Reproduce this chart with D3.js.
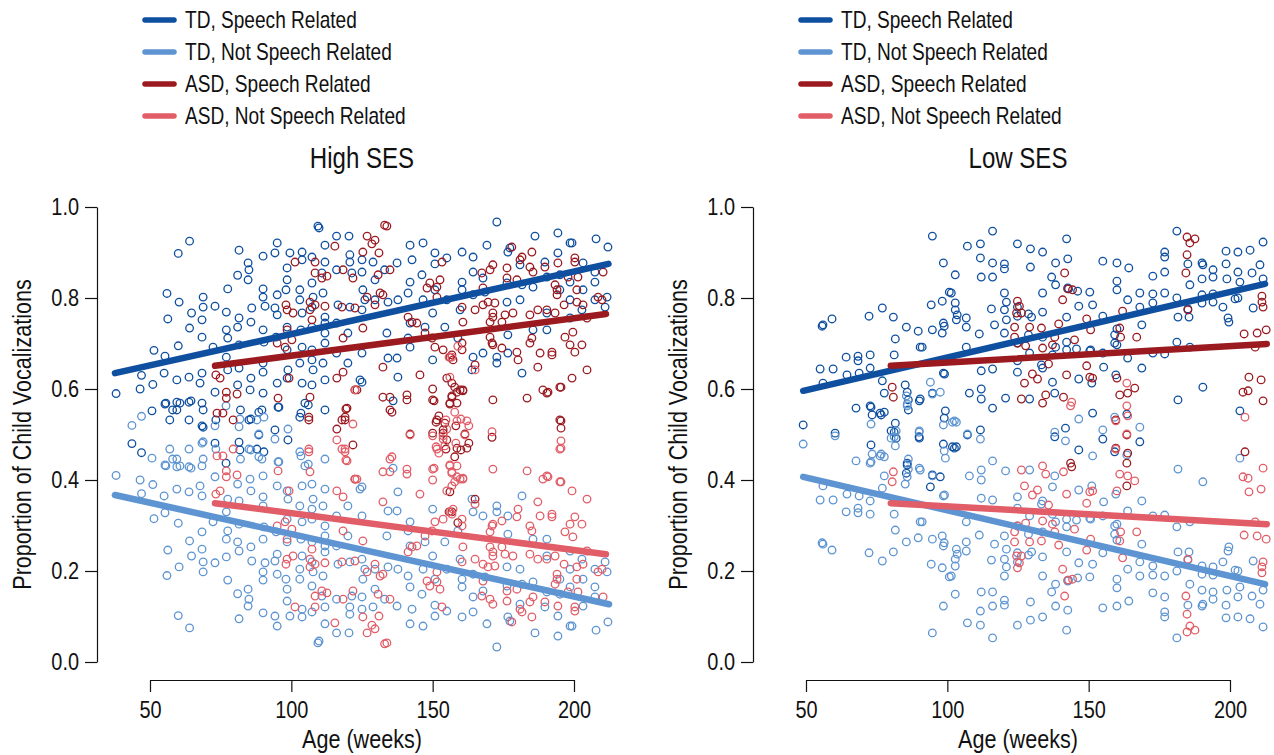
<!DOCTYPE html>
<html>
<head>
<meta charset="utf-8">
<script src="https://cdn.jsdelivr.net/npm/d3@7/dist/d3.min.js"></script>
<style>
    body { margin: 0; background: #fff; }
    svg text { font-family: "Liberation Sans", Arial, Helvetica, sans-serif; fill: #111; }
</style>
</head>
<body>
<svg id="chart" width="1274" height="755"></svg>
<script>

// legend / series
const seriesNames = ["TD, Speech Related", "TD, Not Speech Related", "ASD, Speech Related", "ASD, Not Speech Related"];
const seriesColors = ["#0f4f9f", "#5d94d1", "#9a1a20", "#e15d67"];

const panelTitles = ["High SES", "Low SES"];
const xTicks = [50, 100, 150, 200];
const yTicks = [0, 0.2, 0.4, 0.6, 0.8, 1.0];

// each recording: [age in weeks, proportion speech related]
// the "not speech related" point of a recording is the remaining share of it
const highTD = [
    [38,0.59],[43.6,0.48],[47,0.46],[46.5,0.60],[47,0.63],[51,0.61],[51.4,0.685],[55,0.635],[55.3,0.672],[56,0.81],
    [56.3,0.754],[57,0.532],[55.6,0.569],[58,0.554],[59.5,0.62],[60,0.898],[60.3,0.791],[60,0.695],[60.6,0.569],[63.8,0.626],
    [64,0.925],[64,0.734],[64.7,0.767],[63.8,0.532],[64.5,0.574],[68.4,0.752],[68.4,0.714],[68.4,0.635],[68.8,0.802],[68.8,0.78],
    [67.7,0.613],[68.4,0.569],[68.8,0.554],[68.8,0.516],[73,0.782],[72.3,0.692],[73,0.593],[73.3,0.532],[77,0.769],[77,0.73],
    [77.5,0.712],[77,0.67],[77.5,0.642],[77.5,0.82],[81.5,0.905],[81,0.85],[81.5,0.756],[81,0.736],[81.5,0.697],[81.5,0.646],
    [81,0.609],[82,0.554],[84.7,0.877],[85,0.862],[84.7,0.84],[86,0.778],[85.7,0.747],[85.7,0.624],[85.4,0.598],[85,0.532],
    [90,0.892],[90,0.82],[90,0.802],[90.7,0.782],[90,0.73],[90.3,0.703],[90,0.657],[90,0.637],[90,0.591],[89.6,0.554],
    [95,0.921],[94.2,0.899],[95,0.807],[94.2,0.778],[95,0.763],[94.6,0.714],[95,0.613],[95.3,0.56],[98.5,0.866],[98.1,0.818],
    [98.5,0.84],[98.5,0.736],[98.5,0.686],[98.8,0.642],[98.5,0.624],[99.5,0.899],[103.8,0.901],[103.8,0.884],[103,0.818],[103,0.796],
    [103.8,0.767],[103.4,0.73],[103.8,0.692],[103,0.657],[103.8,0.613],[103,0.538],[107.3,0.89],[107.3,0.833],[107.7,0.802],[107.3,0.736],
    [107.3,0.686],[107.7,0.642],[109.4,0.958],[109.8,0.954],[111.9,0.916],[111.2,0.811],[111.9,0.745],[111.9,0.701],[111.9,0.62],[111.9,0.554],
    [110.8,0.855],[116,0.936],[120.4,0.936],[111.9,0.879],[116,0.862],[120.7,0.895],[120.7,0.879],[121.4,0.855],[125,0.884],[125,0.857],
    [125.3,0.818],[128.9,0.879],[129.6,0.84],[133,0.862],[137.4,0.877],[142,0.916],[146.6,0.921],[142.7,0.884],[146.2,0.851],[150.8,0.899],
    [150.8,0.875],[155,0.888],[160.4,0.901],[160.4,0.835],[164.3,0.89],[164.3,0.857],[169.2,0.916],[167.8,0.844],[172.7,0.967],[176.6,0.901],
    [177.3,0.91],[180.9,0.873],[186.2,0.936],[189.7,0.879],[194.3,0.943],[198.6,0.921],[199.3,0.921],[194.3,0.899],[203.2,0.877],[207.8,0.93],
    [212,0.912],[207.4,0.857],[207.4,0.835],[211.7,0.802],[211,0.78],[203.2,0.818],[198.6,0.835],[198.6,0.796],[195,0.851],[195,0.818],
    [190.4,0.846],[185.5,0.824],[181.6,0.829],[180.9,0.796],[176.3,0.791],[176.3,0.833],[168.5,0.813],[164.3,0.807],[160.4,0.818],[159.7,0.774],
    [155,0.796],[150.8,0.818],[150,0.767],[146.6,0.796],[142,0.835],[141.3,0.811],[142,0.745],[137.7,0.796],[134.2,0.791],[133.8,0.723],
    [129.6,0.796],[126,0.796],[125,0.774],[120.7,0.78],[120,0.723],[116.5,0.785],[116,0.745],[111.9,0.758],[111.9,0.723],[107.3,0.78],
    [107.3,0.664],[111.2,0.657],[116,0.679],[120,0.657],[125,0.679],[124.3,0.62],[107.3,0.609],[104.8,0.569],[134.2,0.668],[137.4,0.668],
    [137.7,0.626],[147.3,0.736],[150,0.664],[154.3,0.736],[158.9,0.712],[164.3,0.67],[163.9,0.642],[167.8,0.679],[172.7,0.657],[172.7,0.67],
    [176.6,0.679],[176.6,0.719],[181.6,0.635],[185.5,0.73],[190.4,0.73],[190.4,0.767],[198.6,0.756],[202.8,0.774],[207.4,0.796],[141.3,0.712],
    [142,0.692],[50.7,0.552],[55.3,0.567],[59.5,0.571],[59.5,0.554],[63.8,0.571],[68.4,0.519],[73,0.481],[81.5,0.483],[81.8,0.466],
    [76.9,0.437],[85.7,0.534],[88.5,0.549],[88.5,0.499],[87.8,0.468],[90.3,0.462],[94.2,0.51],[98.8,0.488],[95.6,0.56],[103.4,0.547],
    [106,0.565],[136,0.574],[125,0.615]
];

const highASD = [
    [101.3,0.879],[108.4,0.879],[108.4,0.855],[110.8,0.844],[111.9,0.782],[98.1,0.785],[98.5,0.774],[100.6,0.767],[106.6,0.791],[106.6,0.774],
    [107.3,0.752],[98.5,0.73],[100.2,0.708],[95,0.701],[97.8,0.692],[73.3,0.631],[74.8,0.624],[77,0.593],[80.8,0.589],[77,0.58],
    [95.3,0.58],[106.6,0.582],[99.2,0.624],[73.7,0.547],[75.8,0.547],[79.4,0.532],[106.2,0.538],[106.2,0.532],[115.4,0.914],[126.8,0.936],
    [128.5,0.919],[129.6,0.927],[133,0.96],[133.8,0.958],[131,0.899],[125.3,0.901],[112.6,0.848],[118.3,0.862],[121.8,0.844],[130.7,0.851],
    [134.9,0.862],[152.6,0.84],[153.3,0.879],[151.5,0.824],[151.5,0.802],[148,0.822],[149,0.833],[132.4,0.807],[131.4,0.811],[129.6,0.785],
    [126.8,0.802],[122.5,0.778],[117.9,0.78],[108.4,0.785],[118.3,0.712],[125.3,0.734],[141.3,0.758],[142.7,0.747],[144.4,0.745],[147.3,0.723],
    [150.8,0.692],[149.8,0.712],[153.7,0.686],[156.1,0.67],[156.8,0.675],[160.4,0.686],[160.4,0.701],[160.7,0.747],[167.4,0.855],[167.8,0.822],
    [170.3,0.862],[171.3,0.873],[176.3,0.866],[178,0.912],[180.9,0.884],[181.6,0.89],[184.4,0.868],[185.1,0.901],[185.5,0.857],[189.7,0.868],
    [194.3,0.877],[200.3,0.888],[200.3,0.879],[201.4,0.846],[197.9,0.846],[193.3,0.829],[194,0.818],[194,0.807],[201,0.818],[196.5,0.785],
    [201,0.791],[203.2,0.785],[204.6,0.756],[208.5,0.802],[209.9,0.796],[210.3,0.857],[179.8,0.84],[176.3,0.844],[172,0.789],[167.8,0.785],
    [169.6,0.791],[165,0.774],[160.4,0.78],[171.3,0.758],[171.3,0.767],[175.6,0.763],[178.4,0.767],[184.4,0.763],[187.2,0.774],[190.4,0.774],
    [193.3,0.767],[170.3,0.747],[174.5,0.747],[170.3,0.714],[171,0.701],[171.3,0.697],[174.5,0.69],[179.8,0.681],[185.1,0.712],[184.4,0.701],
    [188,0.679],[192.2,0.681],[196.8,0.714],[198.6,0.697],[199.6,0.725],[202.8,0.697],[200.3,0.681],[204.6,0.642],[199.3,0.624],[195,0.604],
    [190.8,0.593],[189,0.598],[187.2,0.648],[180.2,0.664],[183.4,0.58],[171.3,0.576],[165,0.653],[157.2,0.664],[155,0.624],[156.8,0.613],
    [157.8,0.604],[159.7,0.598],[160.7,0.598],[156.8,0.582],[156.1,0.569],[158.6,0.569],[150,0.60],[150,0.576],[153.7,0.51],[155,0.488],
    [157.8,0.451],[158.6,0.47],[162.1,0.47],[151.5,0.532],[154.3,0.525],[140.9,0.587],[140.9,0.576],[132.4,0.582],[134.9,0.582],[135.6,0.549],
    [134.9,0.554],[145.5,0.631],[132.4,0.648],[119.7,0.558],[117.9,0.532],[119,0.532],[121.8,0.477],[122.5,0.598],[123.2,0.598],[116.1,0.624],
    [118.3,0.637],[195,0.532],[195.4,0.514],[171,0.494],[192.2,0.675],[150.5,0.574],[156.1,0.567],[156.8,0.585],[158.6,0.593],[160.7,0.596],
    [152.2,0.541],[151.2,0.527],[158.2,0.519],[150,0.503],[153.7,0.503],[161.4,0.501],[162.8,0.481],[160,0.466],[154.7,0.468],[190.4,0.591],
    [195.4,0.604],[195.4,0.53],[142,0.501],[122.5,0.402],[156.1,0.374],[165,0.358],[155.8,0.33],[156.8,0.33],[158.9,0.306],[116.1,0.512],
    [119,0.538],[119.3,0.556]
];

const lowTD = [
    [49,0.521],[55,0.644],[55.7,0.738],[56,0.741],[59.2,0.754],[56,0.613],[59.6,0.644],[60.3,0.503],[64.2,0.67],[64.5,0.631],
    [67.7,0.558],[68.4,0.672],[68.4,0.662],[68.8,0.635],[72.3,0.76],[72.7,0.675],[72.7,0.646],[73,0.56],[73.4,0.543],[73,0.477],
    [76.6,0.543],[77.7,0.549],[77,0.778],[77,0.618],[77.7,0.591],[80.9,0.758],[81.2,0.675],[81.6,0.71],[81.6,0.525],[81.2,0.505],
    [81.9,0.492],[85.5,0.736],[85.1,0.609],[85.8,0.593],[86.2,0.576],[86.2,0.554],[85.8,0.437],[89.7,0.727],[90.4,0.692],[91.1,0.692],
    [90.4,0.578],[90,0.495],[94.7,0.936],[94.3,0.785],[94.7,0.73],[94.7,0.591],[98.6,0.877],[98.2,0.793],[98.6,0.745],[98.9,0.738],
    [98.2,0.723],[98.6,0.635],[99.3,0.552],[98.9,0.536],[98.6,0.479],[101.4,0.811],[102.8,0.851],[102.8,0.789],[102.8,0.774],[103.2,0.752],
    [103.5,0.763],[107.1,0.914],[106.7,0.756],[106.7,0.736],[106.7,0.692],[107.1,0.499],[101.8,0.473],[103.2,0.473],[116,0.947],[111.7,0.919],
    [111.7,0.888],[112,0.846],[116,0.877],[116,0.846],[120.2,0.875],[120.2,0.864],[124.8,0.919],[129.4,0.908],[129.4,0.868],[133.7,0.901],
    [138.3,0.877],[136.9,0.846],[138.3,0.829],[142.2,0.93],[142.6,0.886],[142.6,0.822],[155,0.881],[160,0.877],[160,0.837],[164.2,0.866],
    [160,0.818],[172.7,0.848],[176.9,0.901],[176.9,0.89],[176.9,0.857],[181.2,0.947],[185.1,0.875],[185.8,0.829],[190.1,0.877],[190.4,0.873],
    [190.1,0.842],[194,0.862],[194,0.846],[198.6,0.903],[198.6,0.875],[198.9,0.842],[202.8,0.901],[202.8,0.857],[203.5,0.835],[207.1,0.905],
    [207.8,0.855],[210.6,0.873],[211.7,0.923],[211.7,0.842],[100.7,0.813],[111.3,0.721],[115.6,0.776],[116.7,0.741],[120.2,0.811],[120.9,0.791],
    [120.2,0.774],[120.2,0.723],[120.9,0.752],[124.8,0.78],[124.8,0.76],[128.7,0.765],[129.8,0.758],[128.7,0.719],[133.7,0.811],[133.7,0.769],
    [133.7,0.714],[138.3,0.692],[142.2,0.758],[142.2,0.703],[142.9,0.82],[146.1,0.815],[146.5,0.782],[150.4,0.813],[151.4,0.785],[150.7,0.686],
    [155,0.76],[160,0.732],[159.2,0.719],[159.2,0.701],[163.8,0.796],[168.1,0.811],[168.1,0.78],[168.8,0.741],[172.7,0.809],[172.7,0.789],
    [176.9,0.811],[181.2,0.8],[181.6,0.758],[181.2,0.703],[185.1,0.776],[185.5,0.758],[190.1,0.807],[190.1,0.789],[194,0.809],[194,0.791],
    [197.5,0.78],[199.3,0.756],[199.6,0.747],[201.8,0.798],[202.8,0.8],[208.2,0.778],[129.1,0.679],[133.3,0.653],[133.7,0.646],[137.2,0.675],
    [142.2,0.686],[145.7,0.688],[150.4,0.684],[155,0.679],[155.3,0.648],[160,0.697],[163.8,0.668],[168.8,0.646],[172.7,0.679],[176.9,0.677],
    [185.8,0.692],[190.4,0.604],[181.6,0.576],[129.1,0.578],[107.8,0.591],[112,0.6],[112,0.578],[116,0.558],[120.6,0.58],[124.8,0.637],
    [124.8,0.662],[112,0.64],[116,0.644],[124.8,0.701],[137.2,0.615],[138,0.591],[146.5,0.622],[151.1,0.613],[151.4,0.547],[159.6,0.631],
    [163.5,0.545],[168.1,0.484],[155,0.49],[146.5,0.466],[138,0.495],[141.8,0.514],[72.7,0.563],[76.2,0.547],[80.1,0.508],[85.8,0.433],
    [85.5,0.415],[90.1,0.574],[90.1,0.492],[94.7,0.411],[97.5,0.407],[94,0.385],[99,0.633],[102.5,0.47],[111.7,0.51],[159.2,0.462],
    [203.5,0.552]
];

const lowASD = [
    [80.5,0.604],[80.9,0.582],[124.8,0.793],[125.5,0.782],[124.5,0.767],[126.2,0.767],[123.8,0.736],[123.8,0.714],[124.8,0.701],[129.1,0.736],
    [127.7,0.695],[133.3,0.734],[133.7,0.69],[138,0.714],[137.2,0.697],[139.4,0.743],[141.5,0.855],[142.6,0.82],[144.3,0.818],[140.8,0.796],
    [145,0.708],[149.3,0.754],[150.7,0.73],[162,0.771],[161,0.734],[161.3,0.714],[167,0.714],[184.4,0.855],[184.8,0.934],[185.8,0.921],
    [187.6,0.93],[184.8,0.895],[185.1,0.774],[211.3,0.804],[211.3,0.791],[211.7,0.78],[205,0.721],[209.6,0.723],[212.8,0.73],[208.9,0.692],
    [206.7,0.626],[204.6,0.593],[206.4,0.596],[211,0.62],[211.7,0.574],[149.3,0.651],[150.4,0.626],[151.4,0.624],[160,0.624],[161,0.587],
    [163.8,0.591],[166.3,0.602],[142.2,0.631],[130.1,0.633],[131.9,0.622],[127.3,0.613],[126.2,0.578],[133.7,0.569],[134.8,0.587],[141.1,0.582],
    [135.8,0.655],[159.6,0.532],[163.5,0.499],[163.8,0.459],[159.6,0.47],[205.3,0.462],[163.5,0.437],[143.6,0.437],[144,0.429],[163.5,0.387]
];

// fitted lines, [start, end] as [age, proportion], in legend order
const highFits = [
    [[37.6, 0.635], [212.2, 0.875]],
    [[37.6, 0.367], [212.4, 0.127]],
    [[73, 0.651], [211.3, 0.765]],
    [[73, 0.349], [211.3, 0.237]]
];
const lowFits = [
    [[49, 0.596], [212.4, 0.831]],
    [[49, 0.407], [212.4, 0.171]],
    [[80, 0.651], [213, 0.699]],
    [[80, 0.349], [213, 0.303]]
];


const svg = d3.select("#chart");

// the original type is a condensed grotesque: squeeze Liberation Sans sideways
const squeeze = 0.83;

function narrowText(sel) {
    sel.each(function () {
        const t = d3.select(this);
        const tx = +(t.attr("x") || 0);
        const ty = +(t.attr("y") || 0);
        t.attr("x", null).attr("y", null)
            .attr("transform", `translate(${tx},${ty}) scale(${squeeze},1)`);
    });
}

const panels = [
    { title: panelTitles[0], td: highTD, asd: highASD, fits: highFits, left: 97 },
    { title: panelTitles[1], td: lowTD, asd: lowASD, fits: lowFits, left: 753 }
];

const y = d3.scaleLinear().domain([0, 1]).range([662, 207]);

panels.forEach(function (p) {

    const g = svg.append("g");
    const x = d3.scaleLinear().domain([50, 200]).range([p.left + 53, p.left + 477]);

    // axes, R style: axis line only between first and last tick
    const yAxis = d3.axisLeft(y)
        .tickValues(yTicks)
        .tickFormat(d3.format(".1f"))
        .tickSize(12).tickSizeOuter(0).tickPadding(6);
    const gy = g.append("g")
        .attr("transform", `translate(${p.left},0)`)
        .call(yAxis);

    const xAxis = d3.axisBottom(x)
        .tickValues(xTicks)
        .tickSize(12).tickSizeOuter(0).tickPadding(9);
    const gx = g.append("g")
        .attr("transform", "translate(0,680)")
        .call(xAxis);

    [gy, gx].forEach(function (a) {
        a.attr("font-family", null).attr("font-size", null);
        a.selectAll("path, line").attr("stroke", "#111").attr("stroke-width", 1.2);
        a.selectAll("text").style("font-size", "24px").attr("fill", "#111").call(narrowText);
    });

    // points: speech related share and the rest of each recording
    const groups = [
        p.td.map(d => [d[0], d[1]]),
        p.td.map(d => [d[0], 1 - d[1]]),
        p.asd.map(d => [d[0], d[1]]),
        p.asd.map(d => [d[0], 1 - d[1]])
    ];

    groups.forEach(function (pts, i) {
        g.append("g")
            .selectAll("circle")
            .data(pts)
            .enter()
            .append("circle")
                .attr("cx", d => x(d[0]))
                .attr("cy", d => y(d[1]))
                .attr("r", 3.8)
                .attr("fill", "none")
                .attr("stroke", seriesColors[i])
                .attr("stroke-width", 1.3);
    });

    const line = d3.line()
        .x(d => x(d[0]))
        .y(d => y(d[1]));

    p.fits.forEach(function (f, i) {
        g.append("path")
            .attr("d", line(f))
            .attr("fill", "none")
            .attr("stroke", seriesColors[i])
            .attr("stroke-width", 6.5)
            .attr("stroke-linecap", "round");
    });

    // titles
    const cx = (x.range()[0] + x.range()[1]) / 2;
    g.append("text")
        .attr("x", cx).attr("y", 168)
        .attr("text-anchor", "middle")
        .style("font-size", "29px")
        .text(p.title)
        .call(narrowText);

    g.append("text")
        .attr("x", cx).attr("y", 748)
        .attr("text-anchor", "middle")
        .style("font-size", "26px")
        .text("Age (weeks)")
        .call(narrowText);

    g.append("text")
        .attr("transform", `translate(${p.left - 66},${(y(0) + y(1)) / 2}) rotate(-90) scale(${squeeze},1)`)
        .attr("text-anchor", "middle")
        .style("font-size", "26px")
        .text("Proportion of Child Vocalizations");

    // legend
    const lg = g.append("g").attr("transform", `translate(${p.left + 48},20)`);
    seriesNames.forEach(function (name, i) {
        lg.append("line")
            .attr("x1", 0).attr("x2", 29)
            .attr("y1", i * 32).attr("y2", i * 32)
            .attr("stroke", seriesColors[i])
            .attr("stroke-width", 5.5)
            .attr("stroke-linecap", "round");
        lg.append("text")
            .attr("x", 40).attr("y", i * 32)
            .attr("dy", "0.35em")
            .style("font-size", "23px")
            .text(name)
            .call(narrowText);
    });
});

</script>
</body>
</html>
